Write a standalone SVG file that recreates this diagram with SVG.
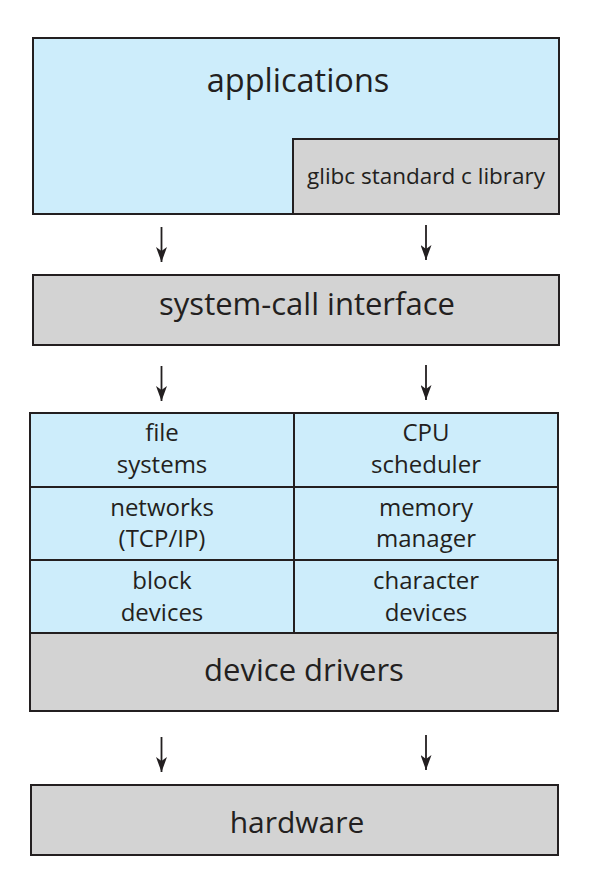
<svg xmlns="http://www.w3.org/2000/svg" width="589" height="892" viewBox="0 0 589 892">
<style>
.blue{fill:#cdedfb;stroke:#231f20;stroke-width:2}
.gray{fill:#d3d3d3;stroke:#231f20;stroke-width:2}
text{font-family:"Open Sans","Noto Sans","Liberation Sans",sans-serif;fill:#231f20;text-anchor:middle}
.big{font-size:31px}
.sm{font-size:22.5px}
.cell{font-size:24px}
.arr{stroke:#231f20;stroke-width:1.8;fill:none;marker-end:url(#ah)}
</style>
<defs>
<marker id="ah" markerWidth="15" markerHeight="11" refX="15" refY="5.5" orient="auto" markerUnits="userSpaceOnUse" viewBox="0 0 15 11">
<path d="M0,0 L15,5.5 L0,11 L4,5.5 Z" fill="#231f20"/>
</marker>
</defs>
<rect width="589" height="892" fill="#fff"/>
<g id="applications">
<rect class="blue" x="33" y="38" width="526" height="176"/>
<text class="big" x="298" y="92" style="font-size:32.5px">applications</text>
</g>
<g id="glibc">
<rect class="gray" x="293" y="139" width="266" height="75"/>
<text class="sm" x="426" y="184">glibc standard c library</text>
</g>
<g id="syscall">
<rect class="gray" x="33" y="275" width="526" height="70"/>
<text class="big" x="307" y="315">system-call interface</text>
</g>
<g id="file-systems">
<rect class="blue" x="30" y="413" width="264" height="74"/>
<text class="cell" x="162" y="441">file</text>
<text class="cell" x="162" y="473">systems</text>
</g>
<g id="cpu-scheduler">
<rect class="blue" x="294" y="413" width="264" height="74"/>
<text class="cell" x="426" y="441">CPU</text>
<text class="cell" x="426" y="473">scheduler</text>
</g>
<g id="networks">
<rect class="blue" x="30" y="487" width="264" height="73"/>
<text class="cell" x="162" y="516">networks</text>
<text class="cell" x="162" y="547">(TCP/IP)</text>
</g>
<g id="memory-manager">
<rect class="blue" x="294" y="487" width="264" height="73"/>
<text class="cell" x="426" y="516">memory</text>
<text class="cell" x="426" y="547">manager</text>
</g>
<g id="block-devices">
<rect class="blue" x="30" y="560" width="264" height="73"/>
<text class="cell" x="162" y="589">block</text>
<text class="cell" x="162" y="621">devices</text>
</g>
<g id="character-devices">
<rect class="blue" x="294" y="560" width="264" height="73"/>
<text class="cell" x="426" y="589">character</text>
<text class="cell" x="426" y="621">devices</text>
</g>
<g id="device-drivers">
<rect class="gray" x="30" y="633" width="528" height="78"/>
<text class="big" x="304" y="681">device drivers</text>
</g>
<g id="hardware">
<rect class="gray" x="31" y="785" width="527" height="70"/>
<text class="big" x="297" y="833" style="font-size:30px">hardware</text>
</g>
<g id="connectors">
<line class="arr" x1="161.5" y1="227" x2="161.5" y2="262"/>
<line class="arr" x1="426" y1="225" x2="426" y2="260"/>
<line class="arr" x1="161.5" y1="366" x2="161.5" y2="401"/>
<line class="arr" x1="426" y1="365" x2="426" y2="400"/>
<line class="arr" x1="161.5" y1="737" x2="161.5" y2="772"/>
<line class="arr" x1="426" y1="735" x2="426" y2="770"/>
</g>
</svg>
